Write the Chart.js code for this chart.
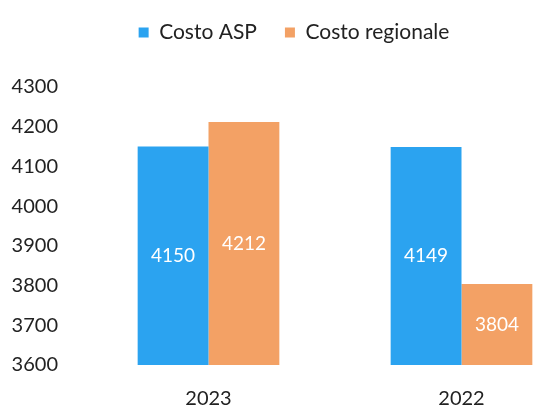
<!DOCTYPE html>
<html>
<head>
<meta charset="utf-8">
<script src="https://cdn.jsdelivr.net/npm/chart.js@4/dist/chart.umd.min.js"></script>
<style>
  html, body { margin: 0; padding: 0; overflow: hidden; background: #fff; }
  #wrap { width: 600px; height: 423px; margin-top: -6px; }
</style>
</head>
<body>
<div id="wrap"><canvas id="costChart"></canvas></div>
<script>
const years = ['2023', '2022'];
const costoAsp = [4150, 4149];
const costoRegionale = [4212, 3804];
const yTicks = [3600, 3700, 3800, 3900, 4000, 4100, 4200, 4300];

const FONT = 'Lato, "Open Sans", sans-serif';

// values written in white in the middle of the visible part of each bar
const barLabels = {
    id: 'barLabels',
    afterDraw(chart) {
        const ctx = chart.ctx;
        const bottom = chart.chartArea.bottom;
        ctx.save();
        ctx.fillStyle = '#ffffff';
        ctx.font = '19px ' + FONT;
        ctx.textAlign = 'center';
        ctx.textBaseline = 'middle';
        chart.data.datasets.forEach((ds, i) => {
            chart.getDatasetMeta(i).data.forEach((bar, j) => {
                const p = bar.getProps(['x', 'y', 'base'], true);
                const base = Math.min(p.base, bottom);
                ctx.fillText(String(ds.data[j]), p.x, (p.y + base) / 2);
            });
        });
        ctx.restore();
    }
};

// more room between legend and plot
const legendSpace = {
    id: 'legendSpace',
    beforeInit(chart) {
        const fit = chart.legend.fit;
        chart.legend.fit = function () {
            fit.call(this);
            this.height = 93;
        };
    }
};

new Chart(document.getElementById('costChart'), {
    type: 'bar',
    data: {
        labels: years,
        datasets: [
            {
                label: 'Costo ASP',
                data: costoAsp,
                backgroundColor: '#2ba3f0',
                categoryPercentage: 0.56,
                barPercentage: 1.0
            },
            {
                label: 'Costo regionale',
                data: costoRegionale,
                backgroundColor: '#f3a165',
                categoryPercentage: 0.56,
                barPercentage: 1.0
            }
        ]
    },
    options: {
        responsive: true,
        maintainAspectRatio: false,
        animation: false,
        layout: {
            padding: { left: 0, right: 12, top: 0, bottom: 0 }
        },
        plugins: {
            legend: {
                position: 'top',
                labels: {
                    boxWidth: 10,
                    boxHeight: 10,
                    padding: 28,
                    color: '#222',
                    font: { size: 21, family: FONT }
                }
            },
            tooltip: { enabled: false }
        },
        scales: {
            x: {
                afterFit(scale) { scale.height = 52; },
                grid: { display: false, drawTicks: false },
                border: { display: false },
                ticks: {
                    padding: 22,
                    color: '#222',
                    font: { size: 20, family: FONT }
                }
            },
            y: {
                min: 3600,
                max: 4300,
                afterFit(scale) { scale.width = 82; },
                afterBuildTicks(scale) {
                    scale.ticks = yTicks.map(v => ({ value: v }));
                },
                grid: { display: false, drawTicks: false },
                border: { display: false },
                ticks: {
                    padding: 24,
                    color: '#222',
                    font: { size: 20, family: FONT },
                    callback: v => String(v)
                }
            }
        }
    },
    plugins: [barLabels, legendSpace]
});
</script>
</body>
</html>
